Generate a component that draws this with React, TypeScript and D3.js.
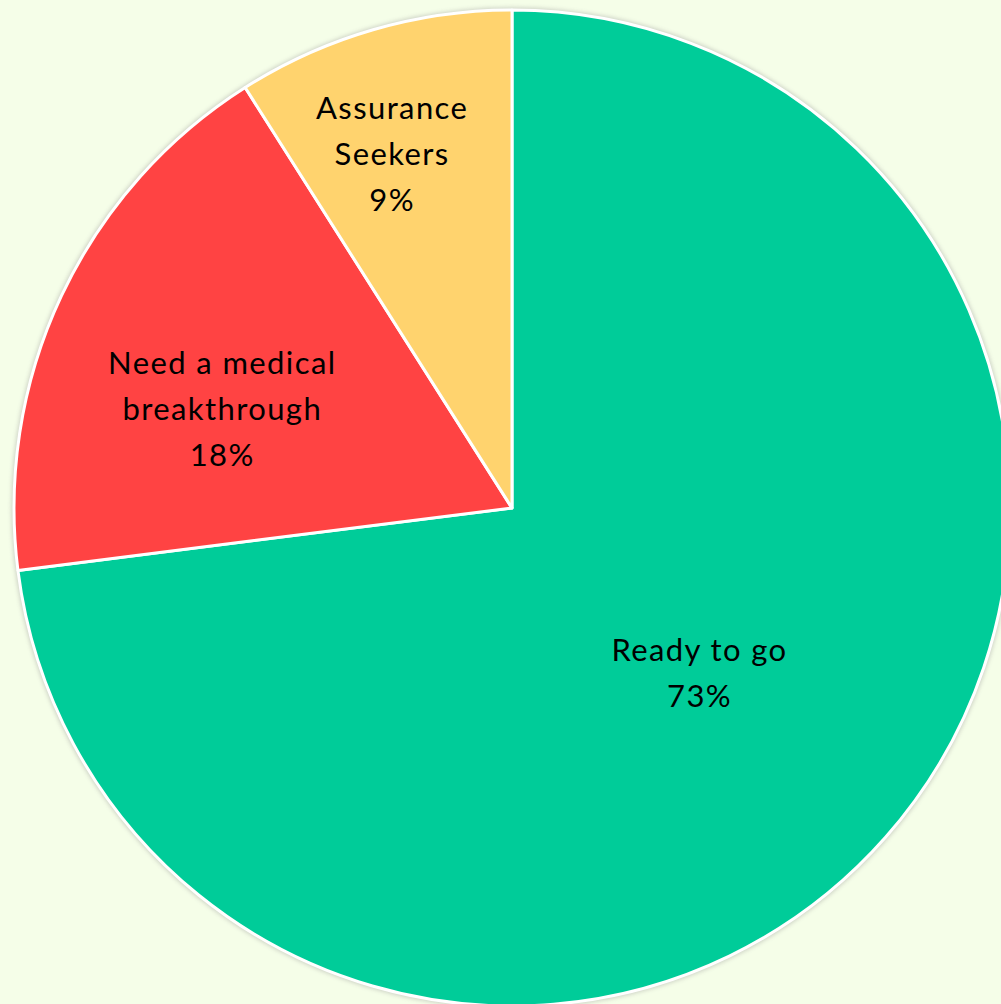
import React from "react";
import * as d3 from "d3";

const categories = ["Ready to go", "Need a medical breakthrough", "Assurance Seekers"];
const values = [73, 18, 9];
const colors = ["#00CC99", "#FF4343", "#FFD36E"];
const labelLines = [["Ready to go"], ["Need a medical", "breakthrough"], ["Assurance", "Seekers"]];
// label placement: radius fraction and angle shift (radians)
const labelLayout = [
  { r: 0.502, shift: 0 },
  { r: 0.615, shift: -0.11 },
  { r: 0.75, shift: -0.044 },
];

const W = 1001;
const H = 1004;
const cx = 512;
const cy = 508;
const R = 498;

export default function App() {
  const pie = d3.pie<number>().sort(null).value((d) => d);
  const arcs = pie(values);
  const arc = d3.arc<d3.PieArcDatum<number>>().innerRadius(0).outerRadius(R);
  const lineH = 46;
  const fs = 31;
  return (
    <svg
      width={W}
      height={H}
      style={{ position: "absolute", left: 0, top: 0, background: "#F5FEE8" }}
    >
      <defs>
        <filter id="sh" x="-10%" y="-10%" width="120%" height="120%">
          <feGaussianBlur stdDeviation="2" />
        </filter>
      </defs>
      <rect width={W} height={H} fill="#F5FEE8" />
      <circle cx={cx} cy={cy} r={R + 2.5} fill="#9a9a9a" opacity={0.45} filter="url(#sh)" />
      <g transform={`translate(${cx},${cy})`}>
        {arcs.map((a, i) => (
          <path key={i} d={arc(a) || ""} fill={colors[i]} stroke="#ffffff" strokeWidth={3} strokeLinejoin="round" />
        ))}
        {arcs.map((a, i) => {
          const mid = (a.startAngle + a.endAngle) / 2 + labelLayout[i].shift;
          const rr = labelLayout[i].r * R;
          const x = Math.sin(mid) * rr;
          const y = -Math.cos(mid) * rr;
          const lines = [...labelLines[i], `${values[i]}%`];
          const n = lines.length;
          return (
            <text
              key={`t${i}`}
              x={x}
              y={y}
              textAnchor="middle"
              fontFamily="Lato, 'Open Sans', sans-serif"
              fontSize={fs}
              letterSpacing={1.4}
              fill="#000"
            >
              {lines.map((l, j) => (
                <tspan key={j} x={x} y={y + (j - (n - 1) / 2) * lineH} dy="0.35em">
                  {l}
                </tspan>
              ))}
            </text>
          );
        })}
      </g>
    </svg>
  );
}
